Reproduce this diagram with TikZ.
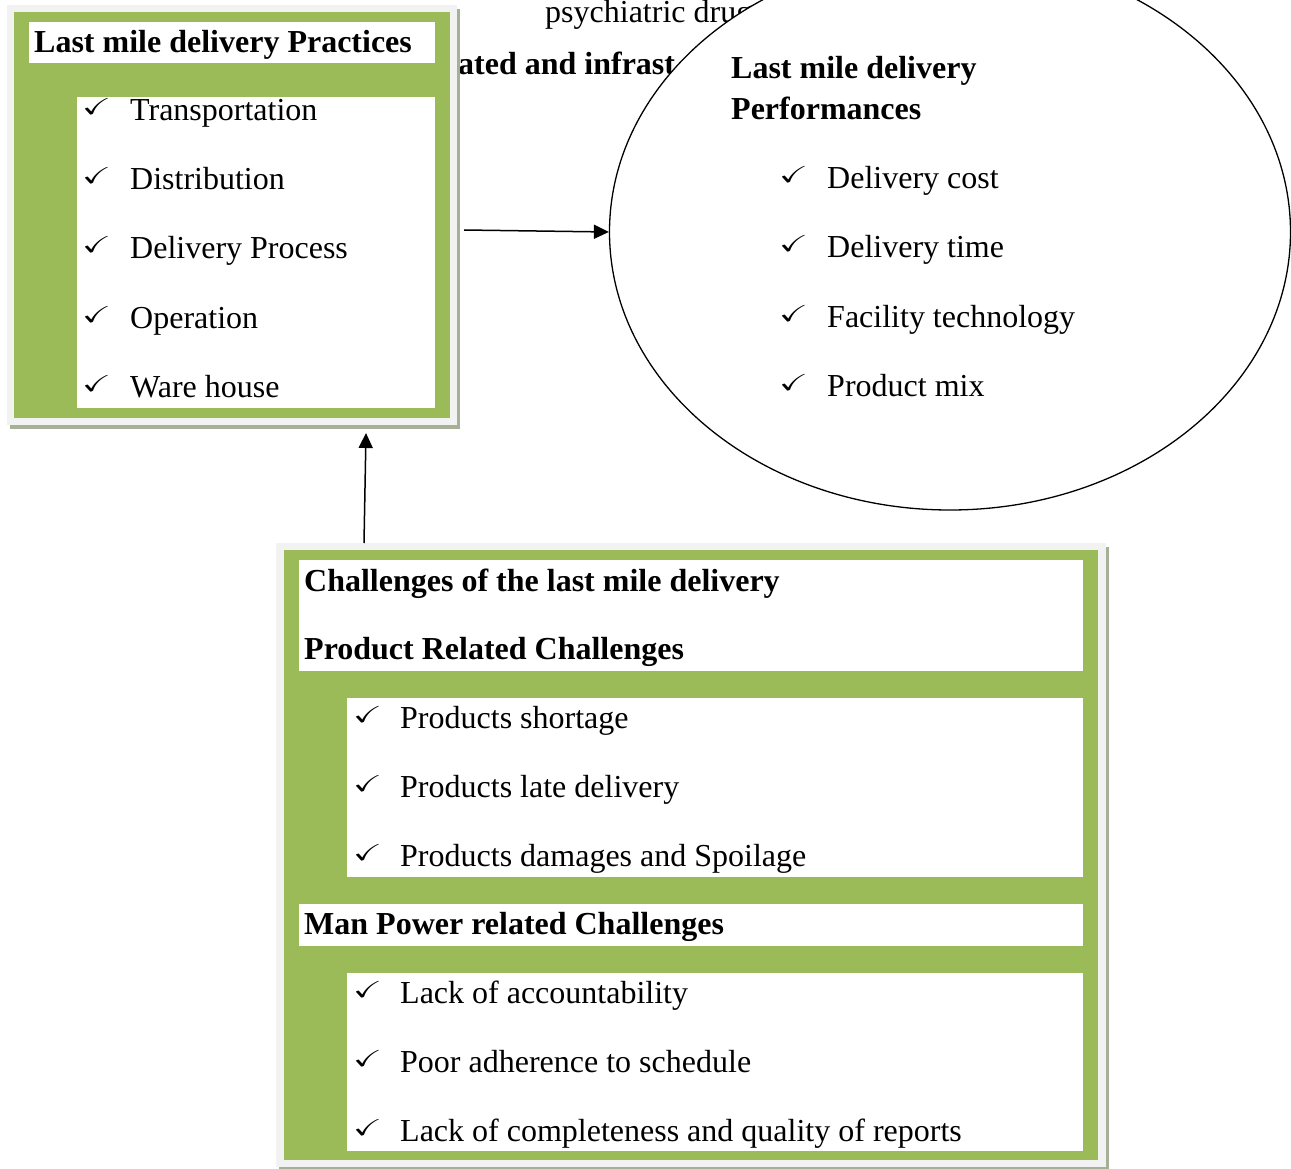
\documentclass[tikz,border=0pt]{standalone}
\usepackage{amssymb}
\usepackage{fontspec}
\setmainfont{Liberation Serif}
\usetikzlibrary{shapes.geometric, arrows.meta, positioning, calc}
\definecolor{cGreen}{RGB}{155, 187, 89}
\definecolor{cFrame}{RGB}{242, 242, 242}
\definecolor{cShadow}{RGB}{166, 176, 150}
\definecolor{tDark}{RGB}{0, 0, 0}
\newcommand{\tck}{\scalebox{1.05}[0.7]{$\checkmark$}}

\begin{document}
\begin{tikzpicture}[
    x=1pt, y=-1pt,
    font=\fontsize{32}{38}\selectfont,
    >=Triangle,
    box/.style={
        anchor=north west,
        inner sep=0pt,
        outer sep=0pt,
        draw=none
    },
    frame/.style={box, fill=cFrame,
        preaction={fill=cShadow, transform canvas={shift={(3pt,-4pt)}}}},
    panel/.style={box, fill=cGreen},
    sheet/.style={box, fill=white},
    head/.style={anchor=base west, inner sep=0pt, font=\fontsize{32}{38}\selectfont\bfseries},
    item/.style={anchor=base west, inner sep=0pt},
    tick/.style={anchor=base west, inner sep=0pt, yshift=6pt, font=\fontsize{33}{38}\selectfont},
    arrow/.style={->, line width=1.5pt, color=tDark, >={Triangle[length=15pt, width=14pt]}}
]
\clip (0,0) rectangle (1291,1169);

% text lying behind the pictures
\node[item] (bgA) at (545,23) {psychiatric drug};
\node[head] (bgB) at (458,75) {ated and infrast};

% Last mile delivery Practices
\node[frame, minimum width=450, minimum height=420] (prac) at (7,5) {};
\node[panel, minimum width=436, minimum height=406] (pracG) at (14,12) {};
\node[sheet, minimum width=406, minimum height=41] (pracH) at (29,22) {};
\node[sheet, minimum width=358, minimum height=311] (pracL) at (77,97) {};
\node[head] (pracT) at (34,53) {Last mile delivery Practices};
\foreach \txt [count=\i] in {Transportation, Distribution, Delivery Process, Operation, Ware house} {
    \node[tick] (pracC\i) at (82, {121+69*(\i-1)}) {\tck};
    \node[item] (pracI\i) at (130, {121+69*(\i-1)}) {\txt};
}

% Last mile delivery Performances
\node[ellipse, draw=tDark, fill=white, line width=1.3pt, inner sep=0pt,
      minimum width=681, minimum height=556] (perf) at (950,232) {};
\node[head] (perfT1) at (731,79) {Last mile delivery};
\node[head] (perfT2) at (731,120) {Performances};
\foreach \txt [count=\i] in {Delivery cost, Delivery time, Facility technology, Product mix} {
    \node[tick] (perfC\i) at (779, {189+69*(\i-1)}) {\tck};
    \node[item] (perfI\i) at (827, {189+69*(\i-1)}) {\txt};
}

% Challenges of the last mile delivery
\node[frame, minimum width=830, minimum height=624] (chal) at (276,543) {};
\node[panel, minimum width=814, minimum height=610] (chalG) at (284,550) {};
\node[sheet, minimum width=784, minimum height=111] (chalH) at (299,560) {};
\node[sheet, minimum width=736, minimum height=179] (chalL1) at (347,698) {};
\node[sheet, minimum width=784, minimum height=42] (chalH2) at (299,904) {};
\node[sheet, minimum width=736, minimum height=178] (chalL2) at (347,973) {};
\node[head] (chalT1) at (304,591) {Challenges of the last mile delivery};
\node[head] (chalT2) at (304,659) {Product Related Challenges};
\node[head] (chalT3) at (304,934) {Man Power related Challenges};
\foreach \txt [count=\i] in {Products shortage, Products late delivery, Products damages and Spoilage} {
    \node[tick] (chalC\i) at (353, {728+69*(\i-1)}) {\tck};
    \node[item] (chalI\i) at (400, {728+69*(\i-1)}) {\txt};
}
\foreach \txt [count=\i] in {Lack of accountability, Poor adherence to schedule, Lack of completeness and quality of reports} {
    \node[tick] (chalD\i) at (353, {1003+69*(\i-1)}) {\tck};
    \node[item] (chalJ\i) at (400, {1003+69*(\i-1)}) {\txt};
}

% connectors
\draw[arrow] ([xshift=7pt, yshift=-15pt]prac.east) -- (perf.west);
\draw[arrow] ([xshift=88pt]chal.north west) -- ([xshift=359pt, yshift=-8pt]prac.south west);

\end{tikzpicture}
\end{document}
